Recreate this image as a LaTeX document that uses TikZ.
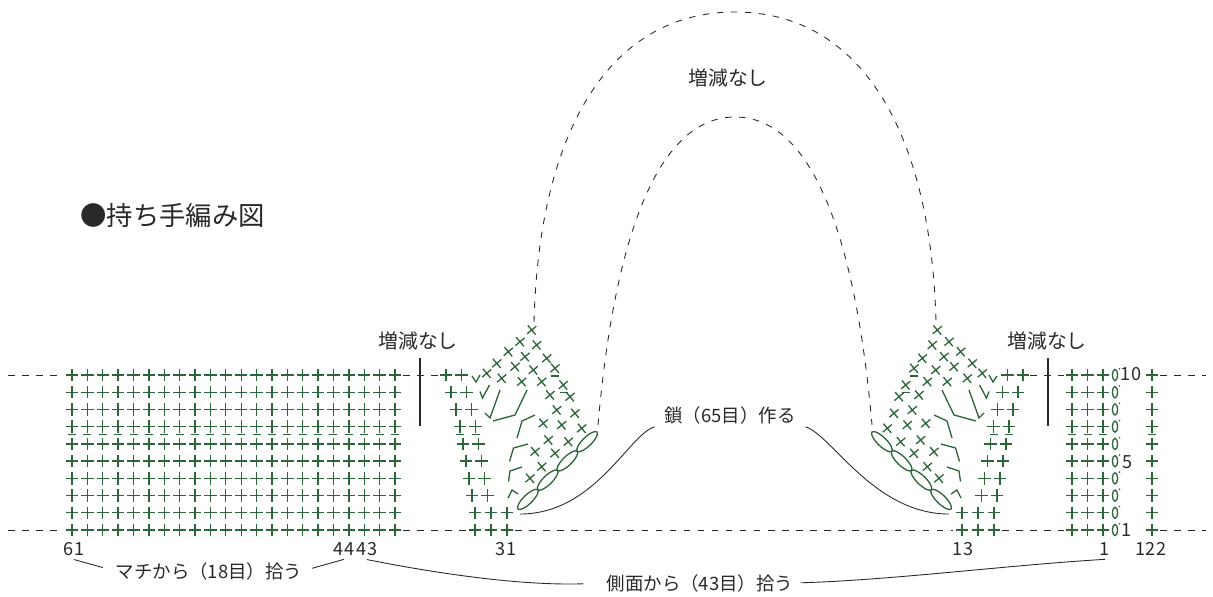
\documentclass[tikz,border=0pt]{standalone}
\usepackage{fontspec}
\setmainfont{Noto Sans CJK JP}
\usepackage{tikz}
\usepackage{xcolor}
\definecolor{stgreen}{rgb}{0.17,0.40,0.22}
\definecolor{ink}{rgb}{0.16,0.16,0.16}

% one side of the handle base, drawn on the left and mirrored on the right
\newcommand{\handlebase}{%
    % slanted sc columns
    \foreach \row/\a in {10/446,9/451,8/456,7/460,6/463,5/466,4/469,3/472}
        {\pic at (\a,547.22-17.22*\row) {pl}; \pic at (\a+15.5,547.22-17.22*\row) {pl};}
    \foreach \row in {1,2}
        \foreach \a in {475,491,507} \pic at (\a,547.22-17.22*\row) {pl};
    \draw[stitch] (456,434.2) -- +(8,0) (471.5,434.2) -- +(8,0);
    % sc worked on the chain
    \foreach \x/\y in {531.7/330,520/341.7,536.7/345,508.3/351.7,525/356.7,496.7/363.3,
            515/366.7,546.7/358.3,486.7/373.3,501.7/378.3,533.3/370,555/368.3,521.7/381.7,
            541.7/381.7,563.3/385,550/395,570/396.7,556.7/410,575/413.3,543.3/423.3,
            561.7/425,581.7/428.3,548.3/440,568.3/441.7,535/451.7,555/453.3,541.7/466.7,530/478.3}
        \pic at (\x,\y) {xs};
    \draw[stitch] (551,376) -- +(8,0) (559.5,392.5) -- +(8,0);
    % increases
    \foreach \a/\b/\c/\d/\e/\f in {472/376/476/382/480/375, 480/391.5/482.5/398/489.5/385,
            485/413/490/418/500/390, 493/421/515/415/527/390, 517/438/522/421/535/415,
            509.5/461.5/513.5/448/528/444, 508.5/481.5/510/471/522/467, 508/498/512/490/518/494}
        \draw[stitch] (\a,\b) -- (\c,\d) -- (\e,\f);
    % chain
    \foreach \t in {0.125,0.375,0.625,0.875}
        \draw[stitch, rotate around={44.3:(518+79*\t,509-77*\t)}]
            (518+79*\t,509-77*\t) ellipse (13.8 and 4.5);
}

\begin{document}
\begin{tikzpicture}[x=0.02cm, y=-0.02cm,
        stitch/.style = {draw=stgreen, line width=0.75pt},
        guide/.style = {draw=ink, line width=0.5pt, dash pattern=on 3.7pt off 4.3pt},
        lead/.style = {draw=ink, line width=0.5pt},
        lbl/.style = {text=ink, inner sep=0pt, font=\fontsize{10.5}{12}\selectfont},
        plain/.style = {text=ink, inner sep=0pt, font=\fontsize{11.3}{13}\selectfont},
        num/.style = {text=ink, inner sep=2pt, font=\fontsize{10.3}{12}\selectfont},
        pl/.pic = {\draw[stitch] (-6.2,0) -- (6.2,0) (0,-6.2) -- (0,6.2);},
        xs/.pic = {\draw[stitch, rotate=40] (-6,0) -- (6,0) (0,-6) -- (0,6);}]
    \useasboundingbox (0,0) rectangle (1213,596);

    % Title
    \node[text=ink, inner sep=0pt, anchor=west, font=\fontsize{15}{18}\selectfont]
        (title) at (80,215) {●持ち手編み図};

    % Gusset rows
    \foreach \row in {1,...,10}
        \foreach \col in {0,...,21}
            \pic at (72+15.38*\col,547.22-17.22*\row) {pl};
    \foreach \col in {0,...,21}
        \draw[stitch] (68+15.38*\col,434.2) -- +(8,0);

    % Handle base, both sides
    \handlebase
    \begin{scope}[shift={(1469,0)}, xscale=-1]
        \handlebase
    \end{scope}

    % Side rows
    \foreach \row in {1,...,10} {
        \foreach \a in {1072,1087.5,1103} \pic at (\a,547.22-17.22*\row) {pl};
        \draw[stitch] (1115,547.22-17.22*\row) ellipse (2.6 and 5.6);
        \fill[stgreen] (1119.5,541-17.22*\row) circle (0.9);
        \pic at (1152,547.22-17.22*\row) {pl};
    }
    \foreach \a in {1072,1087.5,1103,1152}
        \draw[stitch] (\a-4,434.2) -- +(8,0);

    % Row lines
    \draw[guide] (8,375) -- (64,375) (403,375) -- (438,375)
        (1030,375) -- (1064,375) (1160,375) -- (1206,375);
    \draw[guide] (8,530) -- (64,530) (403,530) -- (467,530) (515,530) -- (953,530)
        (1002,530) -- (1064,530) (1160,530) -- (1206,530);

    % Handle outline
    \draw[guide] (534,322) .. controls (539,130) and (610,12) .. (735,12)
        .. controls (860,12) and (931,130) .. (936,322);
    \draw[guide] (598,425) .. controls (615,230) and (660,117) .. (735,117)
        .. controls (810,117) and (855,230) .. (872,425);

    % Straight parts
    \node[plain] (plaintop) at (728,78) {増減なし};
    \node[plain] (plainleft) at (418,341) {増減なし};
    \node[plain] (plainright) at (1047,341) {増減なし};
    \draw[lead, line width=0.6pt] (420,358) -- (420,426) (1048,358) -- (1048,426);

    % Row numbers
    \node[num] (r10) at (1131,374) {10};
    \node[num] (r5) at (1128,462) {5};
    \node[num] (r1) at (1127,530) {1};

    % Stitch numbers
    \node[num] (n61) at (74,549) {61};
    \node[num] (n44) at (344,549) {44};
    \node[num] (n43) at (367,549) {43};
    \node[num] (n31) at (506,549) {31};
    \node[num] (n13) at (963,549) {13};
    \node[num] (n1) at (1105,549) {1};
    \node[num] (n122) at (1151,549) {122};

    % Notes
    \node[lbl] (chain) at (730,415) {鎖（65目）作る};
    \node[lbl] (machi) at (209,571) {マチから（18目）拾う};
    \node[lbl] (side) at (700,583) {側面から（43目）拾う};
    \coordinate (chL) at (520,514);
    \coordinate (chR) at (949,514);

    \draw[lead, shorten <=0.2cm] (chain.south west) .. controls +(-35,10) and +(75,0) .. (chL);
    \draw[lead, shorten <=0.2cm] (chain.south east) .. controls +(35,10) and +(-75,0) .. (chR);
    \draw[lead, shorten >=0.26cm] (n61.south) -- (machi.west);
    \draw[lead, shorten <=0.2cm] (machi.east) -- (n44.south);
    \draw[lead, shorten >=0.46cm] (n43.south) .. controls +(60,12) and +(-90,3) .. (side.west);
    \draw[lead, shorten <=0.14cm] (side.east) .. controls +(100,-3) and +(-100,6) .. (n1.south);
\end{tikzpicture}
\end{document}
